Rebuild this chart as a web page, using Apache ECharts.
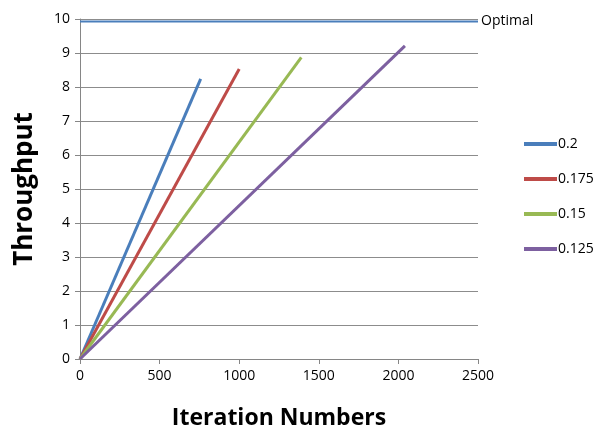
<!DOCTYPE html>
<html><head><meta charset="utf-8">
<script src="https://cdn.jsdelivr.net/npm/echarts@6/dist/echarts.min.js"></script>
<style>html,body{margin:0;padding:0;background:#fff}#c{width:608px;height:441px}</style>
</head><body><div id="c"></div>
<script>
var seriesNames = ['0.2', '0.175', '0.15', '0.125'];
var seriesColors = ['#4A7EBB', '#BE4B48', '#98B954', '#7D60A0'];
var series02 = [[0, 0], [758, 8.24]];
var series0175 = [[0, 0], [1000, 8.53]];
var series015 = [[0, 0], [1390, 8.87]];
var series0125 = [[0, 0], [2041, 9.21]];
var optimalValue = 9.93;
var optimalLine = [[0, optimalValue], [2500, optimalValue]];
var xTicks = [0, 500, 1000, 1500, 2000, 2500];
var yTicks = [0, 1, 2, 3, 4, 5, 6, 7, 8, 9, 10];

var dataList = [series02, series0175, series015, series0125];
var font = '"Open Sans", sans-serif';
var chart = echarts.init(document.getElementById('c'));
var series = dataList.map(function (d, i) {
  return {
    name: seriesNames[i], type: 'line', data: d, symbol: 'none',
    lineStyle: { width: 3, color: seriesColors[i] }, itemStyle: { color: seriesColors[i] },
    z: 3
  };
});
series.push({
  name: 'Optimal', type: 'line', data: optimalLine, symbol: 'none',
  lineStyle: { width: 2, color: '#4A7EBB' }, silent: true,
  endLabel: { show: true, formatter: 'Optimal', color: '#000', fontSize: 14, fontFamily: font, distance: 3 },
  z: 2
});
chart.setOption({
  animation: false,
  grid: { left: 80, right: 130, top: 19, bottom: 82, containLabel: false },
  legend: {
    data: seriesNames, orient: 'vertical', left: 519, top: 132,
    icon: 'rect', itemWidth: 33, itemHeight: 4, itemGap: 21,
    textStyle: { fontSize: 14, fontFamily: font, color: '#000', padding: [0, 0, 0, -4] }
  },
  xAxis: {
    type: 'value', min: 0, max: 2500, interval: 500,
    name: 'Iteration Numbers', nameLocation: 'middle', nameGap: 48,
    nameTextStyle: { fontSize: 23, fontWeight: 'bold', fontFamily: font, color: '#000' },
    axisLine: { show: true, lineStyle: { color: '#868686' } },
    axisTick: { show: true, length: 5, lineStyle: { color: '#868686' } },
    axisLabel: { fontSize: 14, fontFamily: font, color: '#000', margin: 10,
      formatter: function (v) { return xTicks.indexOf(v) >= 0 ? String(v) : ''; } },
    splitLine: { show: false }
  },
  yAxis: {
    type: 'value', min: 0, max: 10, interval: 1,
    name: 'Throughput', nameLocation: 'middle', nameGap: 42, nameRotate: 90,
    nameTextStyle: { fontSize: 26, fontWeight: 'bold', fontFamily: font, color: '#000' },
    axisLine: { show: true, lineStyle: { color: '#868686' } },
    axisTick: { show: true, length: 5, lineStyle: { color: '#868686' } },
    axisLabel: { fontSize: 14, fontFamily: font, color: '#000', margin: 10,
      formatter: function (v) { return yTicks.indexOf(v) >= 0 ? String(v) : ''; } },
    splitLine: { show: true, lineStyle: { color: '#8c8c8c', width: 1 } }
  },
  series: series
});
</script></body></html>
